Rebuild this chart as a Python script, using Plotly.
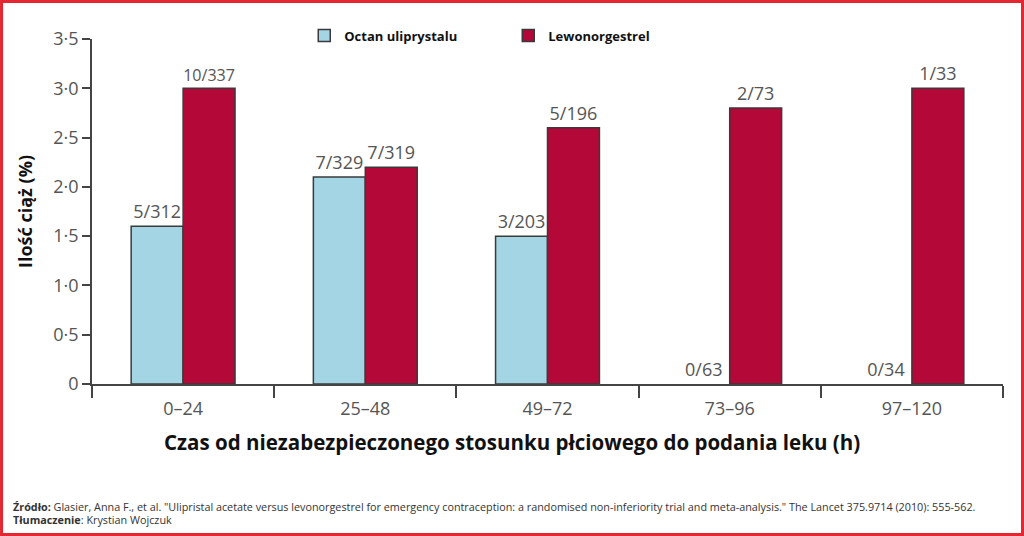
import plotly.graph_objects as go

# data
categories = ["0–24", "25–48", "49–72", "73–96", "97–120"]
ulipristal = [1.6, 2.1, 1.5, 0.0, 0.0]
ulipristal_labels = ["5/312", "7/329", "3/203", "0/63", "0/34"]
levonorgestrel = [3.0, 2.2, 2.6, 2.8, 3.0]
levonorgestrel_labels = ["10/337", "7/319", "5/196", "2/73", "1/33"]
ytick_vals = [0, 0.5, 1.0, 1.5, 2.0, 2.5, 3.0, 3.5]
ytick_text = ["0", "0·5", "1·0", "1·5", "2·0", "2·5", "3·0", "3·5"]

BLUE = "#a3d5e5"
RED = "#b30838"
EDGE = "#3a3a3a"
TICK_FONT = dict(family="Open Sans", size=18, color="#555555")

# no outline on empty bars
blue_edges = [1.5 if v > 0 else 0 for v in ulipristal]

fig = go.Figure()
fig.add_trace(go.Bar(
    x=categories, y=ulipristal, name="Octan uliprystalu",
    marker=dict(color=BLUE, line=dict(color=EDGE, width=blue_edges)),
    text=ulipristal_labels, textposition="outside", cliponaxis=False,
    textfont=TICK_FONT,
))
fig.add_trace(go.Bar(
    x=categories, y=levonorgestrel, name="Lewonorgestrel",
    marker=dict(color=RED, line=dict(color=EDGE, width=1.5)),
    text=levonorgestrel_labels, textposition="outside", cliponaxis=False,
    textfont=TICK_FONT,
))

fig.update_layout(
    width=1024, height=536,
    margin=dict(l=92, r=21, t=39, b=152),
    paper_bgcolor="white", plot_bgcolor="white",
    barmode="group", bargap=0.43, bargroupgap=0,
    font=dict(family="Open Sans", color="#222222"),
    showlegend=True,
    legend=dict(
        orientation="h", x=0.233, y=1.01, xanchor="left", yanchor="middle",
        font=dict(family="Open Sans", size=13, color="#111111", weight="bold"),
        entrywidth=159, entrywidthmode="pixels", bgcolor="rgba(0,0,0,0)",
    ),
    xaxis=dict(
        tickson="boundaries", ticks="outside", ticklen=12, tickwidth=1.5,
        tickcolor="#444444", showline=True, linecolor="#444444", linewidth=1.5,
        showgrid=False, tickfont=TICK_FONT, ticklabelstandoff=8,
    ),
    yaxis=dict(
        range=[0, 3.5], tickvals=ytick_vals, ticktext=ytick_text,
        ticks="outside", ticklen=8, tickwidth=1.5, tickcolor="#444444",
        showline=True, linecolor="#444444", linewidth=1.5,
        showgrid=False, zeroline=False, tickfont=TICK_FONT,
        title=dict(text="<b>Ilość ciąż (%)</b>",
                   font=dict(family="Open Sans", size=18, color="#111111"), standoff=16),
    ),
)

# x axis title, centred on the page rather than the plot area
fig.add_annotation(
    xref="paper", yref="paper", x=0.4605, y=-0.168, xanchor="center", yanchor="middle",
    showarrow=False,
    font=dict(family="Open Sans", size=20.5, color="#111111"),
    text="<b>Czas od niezabezpieczonego stosunku płciowego do podania leku (h)</b>",
)

# footer with source and translator
fig.add_annotation(
    xref="paper", yref="paper", x=-0.089, y=-0.354, xanchor="left", yanchor="middle",
    showarrow=False, align="left",
    font=dict(family="Open Sans", size=10.8, color="#333333"),
    text="<b>Źródło:</b> Glasier, Anna F., et al. \"Ulipristal acetate versus levonorgestrel for emergency "
         "contraception: a randomised non-inferiority trial and meta-analysis.\" The Lancet 375.9714 (2010): 555-562.",
)
fig.add_annotation(
    xref="paper", yref="paper", x=-0.089, y=-0.394, xanchor="left", yanchor="middle",
    showarrow=False, align="left",
    font=dict(family="Open Sans", size=10.8, color="#333333"),
    text="<b>Tłumaczenie</b>: Krystian Wojczuk",
)

# red frame around the whole picture
fig.add_shape(
    type="rect", xref="paper", yref="paper",
    x0=-0.0993, x1=1.0214, y0=-0.4362, y1=1.1087,
    line=dict(color="#e3262f", width=3), fillcolor="rgba(0,0,0,0)", layer="above",
)

fig.write_html("out.html", config={"displayModeBar": False},
               post_script="document.body.style.margin='0';")
